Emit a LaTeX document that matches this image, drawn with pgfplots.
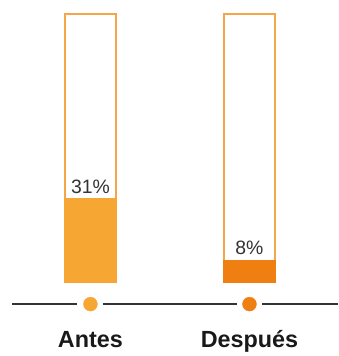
\documentclass[border=0pt]{standalone}
\usepackage{pgfplots}
\pgfplotsset{compat=1.18}
\usepackage{fontspec}
\setmainfont{Liberation Sans}
\definecolor{outl}{HTML}{F5A64A}
\definecolor{antes}{HTML}{F6A733}
\definecolor{despues}{HTML}{F07F12}
\definecolor{txt}{HTML}{333333}
\begin{document}
\begin{tikzpicture}
\begin{axis}[
  width=340pt, height=356pt, scale only axis,
  xmin=-0.56875, xmax=1.55625,
  ymin=-26.67, ymax=105.19,
  hide axis, clip=false,
  ybar, bar width=51pt,
]
% background frames (100%)
\addplot[bar shift=0pt, draw=outl, fill=white, line width=2pt] coordinates {(0,100) (1,100)};
% values
\addplot[bar shift=0pt, draw=antes, fill=antes, line width=2pt] coordinates {(0,31)};
\addplot[bar shift=0pt, draw=despues, fill=despues, line width=2pt] coordinates {(1,8)};
% baseline segments
\addplot[sharp plot, no marks, draw=txt, line width=1.8pt] coordinates {(-0.49375,-8.148) (-0.08750,-8.148)};
\addplot[sharp plot, no marks, draw=txt, line width=1.8pt] coordinates {(0.08125,-8.148) (0.91875,-8.148)};
\addplot[sharp plot, no marks, draw=txt, line width=1.8pt] coordinates {(1.08125,-8.148) (1.55625,-8.148)};
% dots
\addplot[only marks, mark=*, mark size=7pt, draw=antes, fill=antes] coordinates {(0,-8.148)};
\addplot[only marks, mark=*, mark size=7pt, draw=despues, fill=despues] coordinates {(1,-8.148)};
% labels
\node[anchor=base, font=\fontsize{19.5}{20}\selectfont, text=txt, yshift=6pt] at (axis cs:0,31) {31\%};
\node[anchor=base, font=\fontsize{19.5}{20}\selectfont, text=txt, yshift=6pt] at (axis cs:1,8) {8\%};
\node[anchor=base, font=\fontsize{23.5}{24}\selectfont\bfseries, text=black!90] at (axis cs:0,-24.44) {Antes};
\node[anchor=base, font=\fontsize{23.5}{24}\selectfont\bfseries, text=black!90] at (axis cs:1,-24.44) {Después};
\path (rel axis cs:0,0) rectangle (rel axis cs:1,1);
\end{axis}
\end{tikzpicture}
\end{document}
